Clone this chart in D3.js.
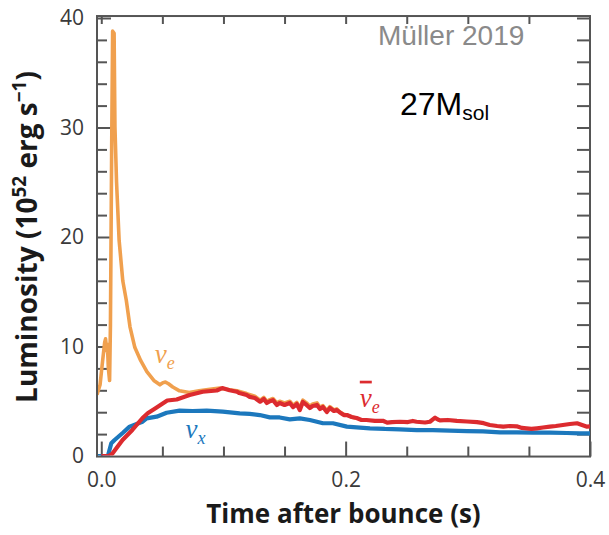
<!DOCTYPE html>
<html><head><meta charset="utf-8">
<script src="https://cdn.jsdelivr.net/npm/d3@7"></script>
<style>
html,body{margin:0;padding:0;background:#fff;}
svg{display:block;}
</style></head>
<body>
<svg id="chart" width="609" height="535"></svg>
<script>
// ---- data (time after bounce [s], luminosity [1e52 erg/s]) ----
const nueData = [
  [-0.0035,5.6],[-0.001,6.5],[0.001,8.6],[0.0028,10.4],[0.0035,10.7],[0.0045,9.6],[0.005,10.2],
  [0.0058,8.0],[0.0068,6.9],[0.0075,12],[0.0085,28],[0.0093,38.8],[0.0105,38.6],[0.0112,30],
  [0.0125,25],[0.0146,19.7],[0.0176,16.0],[0.0205,14.2],[0.0235,11.8],[0.0275,9.9],[0.0323,8.7],
  [0.0373,7.7],[0.043,6.9],[0.048,6.5],[0.0505,6.7],[0.0525,6.75],[0.055,6.6],[0.0585,6.3],
  [0.064,5.95],[0.072,5.8],[0.080,5.95],[0.089,6.1],[0.097,6.2],[0.105,6.05],[0.111,5.95],
  [0.119,5.7],[0.1257,5.45],[0.13,5.1],[0.133,5.35],[0.1355,5.0],[0.138,5.15],[0.1405,5.25],
  [0.1437,4.85],[0.146,5.0],[0.15,4.85],[0.1543,5.0],[0.157,4.65],[0.16,4.9],[0.1625,4.4],
  [0.165,5.1],[0.168,4.85],[0.1707,4.55],[0.173,4.75],[0.1765,4.85],[0.179,4.45],[0.1814,4.6],
  [0.1846,4.15],[0.1871,4.5],[0.1904,4.2],[0.1928,4.3],[0.195,4.05],[0.1985,3.8],[0.201,3.75],
  [0.205,3.55],[0.209,3.45]
];
const antiNueData = [
  [0.000,0],[0.006,0],[0.009,0.2],[0.0174,1.46],[0.0256,2.4],[0.0338,3.47],[0.038,3.9],[0.045,4.4],
  [0.054,5.07],[0.0617,5.16],[0.0723,5.57],[0.083,5.87],[0.0945,5.98],[0.099,6.2],[0.105,6.0],
  [0.111,5.87],[0.113,5.75],[0.119,5.57],[0.1215,5.4],[0.1257,5.3],[0.13,4.96],[0.133,5.2],
  [0.1355,4.84],[0.138,5.0],[0.1405,5.1],[0.1437,4.66],[0.146,4.84],[0.150,4.66],[0.1543,4.84],
  [0.157,4.47],[0.160,4.75],[0.1625,4.2],[0.165,4.93],[0.168,4.66],[0.1707,4.38],[0.173,4.57],
  [0.1765,4.66],[0.179,4.29],[0.1814,4.47],[0.1846,4.02],[0.1871,4.38],[0.1904,4.11],[0.1928,4.2],
  [0.195,4.0],[0.1985,3.74],[0.201,3.74],[0.205,3.56],[0.209,3.47],[0.213,3.29],[0.217,3.29],
  [0.224,3.2],[0.2305,3.22],[0.234,3.05],[0.238,3.1],[0.2444,3.13],[0.251,3.1],[0.255,3.2],
  [0.258,3.13],[0.265,3.06],[0.269,3.13],[0.2732,3.5],[0.2755,3.33],[0.2772,3.25],[0.2836,3.29],
  [0.291,3.2],[0.2993,3.15],[0.3075,3.1],[0.313,3.0],[0.318,2.83],[0.324,2.74],[0.329,2.68],
  [0.3345,2.74],[0.340,2.71],[0.3443,2.56],[0.348,2.53],[0.352,2.47],[0.3566,2.53],[0.3615,2.6],
  [0.3672,2.68],[0.372,2.74],[0.3778,2.83],[0.3836,2.92],[0.3894,2.99],[0.3935,2.83],[0.3976,2.68],
  [0.400,2.7]
];
const nuxData = [
  [-0.0035,0],[0.0054,0],[0.0082,1.16],[0.0109,1.46],[0.0175,2.1],[0.0232,2.68],[0.0338,3.13],
  [0.0371,3.44],[0.0453,3.59],[0.0535,3.95],[0.0641,4.14],[0.0748,4.11],[0.0863,4.14],[0.0994,4.05],
  [0.1133,3.9],[0.1215,3.84],[0.1297,3.74],[0.1379,3.53],[0.146,3.52],[0.1543,3.35],[0.1625,3.44],
  [0.1707,3.29],[0.1765,3.13],[0.1814,2.99],[0.1896,2.99],[0.201,2.68],[0.2117,2.6],[0.2199,2.53],
  [0.232,2.47],[0.2444,2.44],[0.2583,2.37],[0.2714,2.37],[0.2853,2.31],[0.2993,2.28],[0.3124,2.24],
  [0.3263,2.16],[0.3402,2.15],[0.3533,2.13],[0.3672,2.13],[0.381,2.1],[0.3917,2.07],[0.400,2.07]
];
const xMajorTicks = [0, 0.2, 0.4];
const xMinorTicks = [0.05, 0.1, 0.15, 0.25, 0.3, 0.35];
const yMajorTicks = [0, 10, 20, 30, 40];
const yMinorTicks = [2,4,6,8,12,14,16,18,22,24,26,28,32,34,36,38];
const xTitle = "Time after bounce (s)";
const seriesLabels = [
  {name:"nue", main:"ν", sub:"e", bar:false, at:[0.0437, 8.5], color:"#F0A04E"},
  {name:"antinue", main:"ν", sub:"e", bar:true, at:[0.2116, 4.5], color:"#DC2B2F"},
  {name:"nux", main:"ν", sub:"x", bar:false, at:[0.069, 1.6], color:"#1C78BD"}
];

// ---- layout ----
const svg = d3.select("#chart");
const x = d3.scaleLinear().domain([-0.0035, 0.4]).range([97, 590]);
const y = d3.scaleLinear().domain([0, 40]).range([456, 18]);
const yTop = y(40.18), yBot = y(-0.05);
const tickColor = "#555";

// axes
const fontTick = "'Open Sans', sans-serif";
function styleAxis(g){
  g.select(".domain").remove();
  g.selectAll("line").attr("stroke", tickColor).attr("stroke-width", 2);
  g.selectAll("text").attr("fill","#3a3a3a").style("font-family", fontTick).style("font-size","21px");
}
// bottom
svg.append("g").attr("transform",`translate(0,${yBot})`)
  .call(d3.axisBottom(x).tickValues(xMajorTicks).tickSizeInner(-15).tickSizeOuter(0).tickPadding(16).tickFormat(d3.format(".1f")))
  .call(styleAxis);
svg.append("g").attr("transform",`translate(0,${yBot})`)
  .call(d3.axisBottom(x).tickValues(xMinorTicks).tickSizeInner(-10).tickSizeOuter(0).tickFormat(""))
  .call(styleAxis);
// top
svg.append("g").attr("transform",`translate(0,${yTop})`)
  .call(d3.axisTop(x).tickValues(xMajorTicks.concat(xMinorTicks).filter(d=>d<0.4)).tickSizeInner(-8).tickSizeOuter(0).tickFormat(""))
  .call(styleAxis);
// left
svg.append("g").attr("transform",`translate(${x.range()[0]},0)`)
  .call(d3.axisLeft(y).tickValues(yMajorTicks.filter(d=>d>0)).tickSizeInner(-14).tickSizeOuter(0).tickPadding(13).tickFormat(d3.format("d")))
  .call(styleAxis);
svg.append("g").attr("transform",`translate(${x.range()[0]},0)`)
  .call(d3.axisLeft(y).tickValues([0]).tickSizeInner(0).tickSizeOuter(0).tickPadding(13).tickFormat(d3.format("d")))
  .call(styleAxis);
svg.append("g").attr("transform",`translate(${x.range()[0]},0)`)
  .call(d3.axisLeft(y).tickValues(yMinorTicks).tickSizeInner(-10).tickSizeOuter(0).tickFormat(""))
  .call(styleAxis);
// right
svg.append("g").attr("transform",`translate(${x.range()[1]},0)`)
  .call(d3.axisRight(y).tickValues(yMajorTicks.concat(yMinorTicks).filter(d=>d>0)).tickSizeInner(-13).tickSizeOuter(0).tickFormat(""))
  .call(styleAxis);

// frame
svg.append("rect").attr("x", x.range()[0]).attr("y", yTop)
  .attr("width", x.range()[1]-x.range()[0]).attr("height", yBot-yTop)
  .attr("fill","none").attr("stroke", tickColor).attr("stroke-width", 2);

// lines
svg.append("clipPath").attr("id","clip").append("rect")
  .attr("x", x.range()[0]+1).attr("y", yTop).attr("width", x.range()[1]-x.range()[0]-1).attr("height", yBot-yTop-1);
const line = d3.line().x(d=>x(d[0])).y(d=>y(d[1]));
const lines = svg.append("g").attr("clip-path","url(#clip)");
lines.append("path").datum(nueData).attr("d", line).attr("fill","none")
  .attr("stroke", seriesLabels[0].color).attr("stroke-width", 3.6).attr("stroke-linejoin","round");
lines.append("path").datum(nuxData).attr("d", line).attr("fill","none")
  .attr("stroke", seriesLabels[2].color).attr("stroke-width", 4.2).attr("stroke-linejoin","round");
lines.append("path").datum(antiNueData).attr("d", line).attr("fill","none")
  .attr("stroke", seriesLabels[1].color).attr("stroke-width", 4.2).attr("stroke-linejoin","round");

// series labels
seriesLabels.forEach(s=>{
  const t = svg.append("text").attr("x", x(s.at[0])).attr("y", y(s.at[1]))
    .attr("fill", s.color).style("font-family","'Liberation Serif', serif").style("font-style","italic")
    .style("font-size","27px");
  const mt = t.append("tspan").text(s.main);
  if (s.bar) mt.style("text-decoration","overline");
  t.append("tspan").attr("dy", 6).style("font-size","18px").text(s.sub);
});

// axis titles
svg.append("text").attr("x", (x.range()[0]+x.range()[1])/2).attr("y", 523)
  .attr("text-anchor","middle").attr("fill","#1a1a1a")
  .style("font-family","'Open Sans', sans-serif").style("font-weight","bold").style("font-size","26px")
  .text(xTitle);
const yl = svg.append("text").attr("transform","translate(37,237) rotate(-90)")
  .attr("text-anchor","middle").attr("fill","#1a1a1a")
  .style("font-family","'Open Sans', sans-serif").style("font-weight","bold").style("font-size","28px");
yl.append("tspan").text("Luminosity (10");
yl.append("tspan").attr("dy",-11).style("font-size","19px").text("52");
yl.append("tspan").attr("dy",11).text(" erg s");
yl.append("tspan").attr("dy",-11).style("font-size","19px").text("\u22121");
yl.append("tspan").attr("dy",11).text(")");

// annotations
svg.append("text").attr("x",378).attr("y",45).attr("fill","#8a8a8a")
  .style("font-family","'Liberation Sans', Arial, sans-serif").style("font-size","28px").text("Müller 2019");
const m = svg.append("text").attr("x",400).attr("y",115).attr("fill","#000")
  .style("font-family","'Liberation Sans', Arial, sans-serif").style("font-size","32px");
m.append("tspan").text("27M");
m.append("tspan").attr("dy",5).style("font-size","21px").text("sol");
</script>
</body></html>
